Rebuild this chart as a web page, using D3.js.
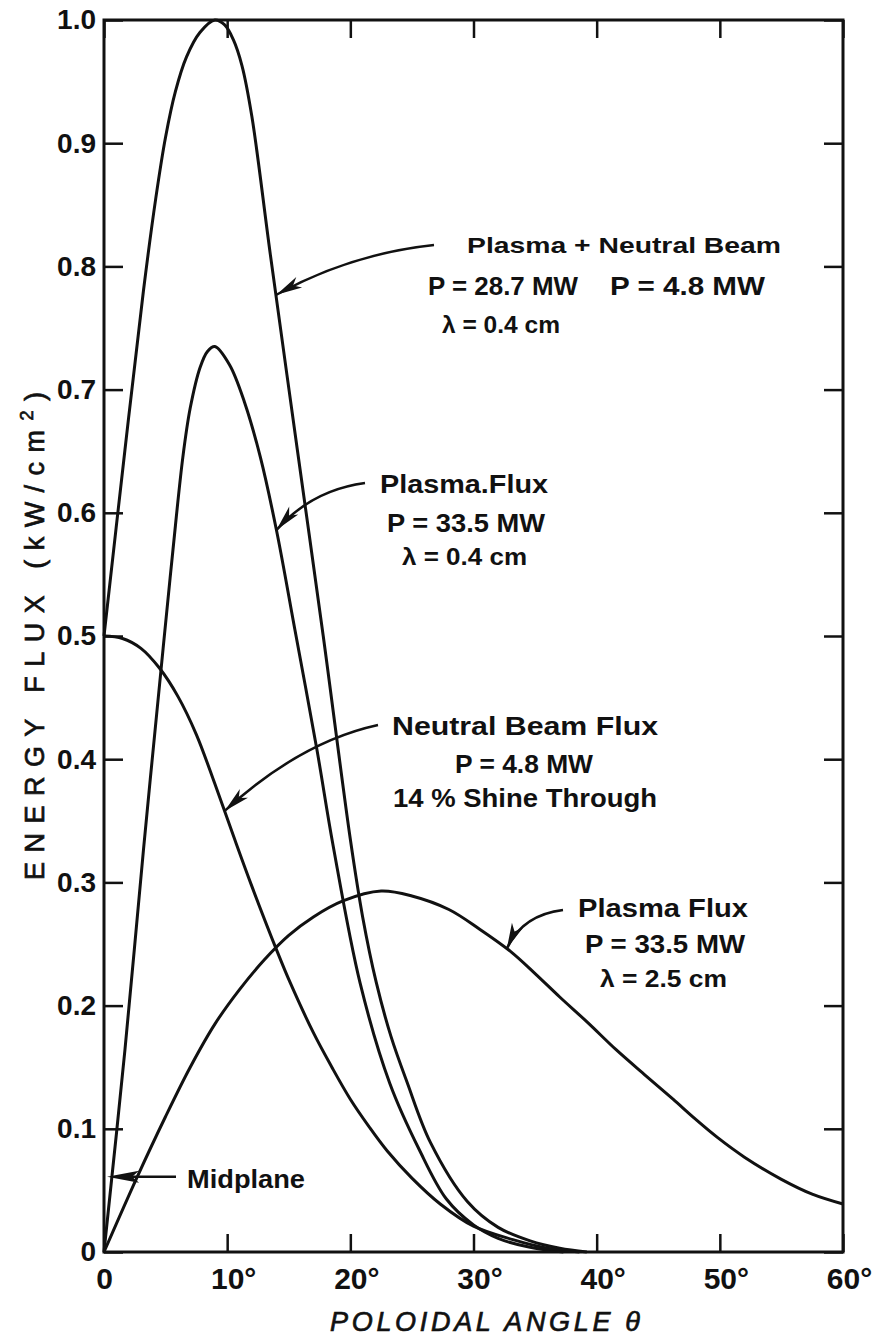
<!DOCTYPE html>
<html>
<head>
<meta charset="utf-8">
<script src="https://cdn.jsdelivr.net/npm/d3@7"></script>
<style>
  body { margin: 0; background: #fff; }
  svg { display: block; }
  .lbl { font-family: "Liberation Sans", Arial, sans-serif; fill: #111; }
  .axis text { font-family: "Liberation Sans", Arial, sans-serif; font-weight: bold; fill: #111; }
  .axis line { stroke: #111; stroke-width: 2.5; }
  .axis path { display: none; }
</style>
</head>
<body>
<div id="chart"></div>
<script>
// Tick values
var xTicks = [0, 10, 20, 30, 40, 50, 60];
var yTicks = [0, 0.1, 0.2, 0.3, 0.4, 0.5, 0.6, 0.7, 0.8, 0.9, 1.0];

// Plasma + Neutral Beam (P = 28.7 MW + 4.8 MW, lambda = 0.4 cm)
var totalTheta = [0, 1.7, 3.2, 4.2, 5.0, 5.8, 6.7, 7.8, 9.0, 9.8, 10.5, 11.2, 12.0, 13.5, 15.7, 17.8, 20.0, 21.0, 22.1, 23.3, 24.6, 26.5, 29.5, 32.0, 34.6, 37.0, 39.2];
var totalFlux  = [0.5, 0.651, 0.78, 0.855, 0.905, 0.942, 0.97, 0.99, 1.0, 0.996, 0.984, 0.963, 0.922, 0.81, 0.651, 0.5, 0.335, 0.272, 0.219, 0.175, 0.138, 0.089, 0.041, 0.020, 0.009, 0.003, 0];

// Plasma flux, P = 33.5 MW, lambda = 0.4 cm
var plasmaTheta = [0, 1.7, 3.2, 4.8, 5.6, 6.4, 7.0, 7.8, 8.4, 9.0, 10.2, 11.4, 12.7, 14.0, 15.5, 17.3, 18.6, 20.8, 23.2, 25.6, 27.8, 30.0, 32.0, 34.5, 37.3];
var plasmaFlux  = [0, 0.164, 0.326, 0.49, 0.57, 0.645, 0.685, 0.718, 0.731, 0.735, 0.72, 0.69, 0.645, 0.586, 0.505, 0.407, 0.33, 0.218, 0.137, 0.083, 0.043, 0.022, 0.011, 0.004, 0];

// Neutral beam flux, P = 4.8 MW, 14% shine through
var beamTheta = [0, 1.5, 3.0, 4.5, 6.0, 7.5, 9.0, 10.5, 12.0, 14.1, 15.1, 17.0, 18.5, 20.0, 21.5, 23.0, 25.0, 27.3, 30.0, 33.2, 36.0, 38.6];
var beamFlux  = [0.5, 0.498, 0.49, 0.474, 0.451, 0.42, 0.38, 0.338, 0.297, 0.243, 0.219, 0.178, 0.150, 0.124, 0.102, 0.082, 0.060, 0.039, 0.021, 0.010, 0.003, 0];

// Plasma flux, P = 33.5 MW, lambda = 2.5 cm
var wideTheta = [0, 2.7, 5.0, 7.0, 9.0, 11.0, 13.0, 15.0, 17.0, 19.4, 22.5, 25.0, 28.0, 30.5, 33.0, 35.0, 37.0, 39.3, 41.6, 44.0, 46.2, 48.0, 49.8, 52.0, 55.0, 57.5, 60.0];
var wideFlux  = [0, 0.061, 0.11, 0.15, 0.185, 0.213, 0.237, 0.257, 0.272, 0.285, 0.293, 0.289, 0.278, 0.262, 0.244, 0.226, 0.207, 0.186, 0.164, 0.143, 0.124, 0.108, 0.093, 0.077, 0.059, 0.047, 0.039];

var width = 879, height = 1338;
// note: "top" is taken by window.top, so use plot* names
var plotLeft = 104, plotRight = 843, plotTop = 20, plotBottom = 1252;

var svg = d3.select("#chart").append("svg")
  .attr("width", width)
  .attr("height", height);

var x = d3.scaleLinear().domain([0, 60]).range([plotLeft, plotRight]);
var y = d3.scaleLinear().domain([0, 1]).range([plotBottom, plotTop]);

// Axes, ticks point inward, labels outside
svg.append("g").attr("class", "axis")
  .attr("transform", "translate(0," + plotBottom + ")")
  .call(d3.axisBottom(x).tickValues(xTicks).tickSize(-18).tickPadding(16)
    .tickFormat(function(d) { return d === 0 ? "0" : d + "\u00b0"; }))
  .selectAll("text")
  .attr("font-size", 30)
  .attr("dx", function(d) { return d === 0 ? 0 : 6; });

svg.append("g").attr("class", "axis")
  .attr("transform", "translate(" + plotLeft + ",0)")
  .call(d3.axisLeft(y).tickValues(yTicks).tickSize(-19).tickPadding(8)
    .tickFormat(function(d) { return d === 0 ? "0" : d3.format(".1f")(d); }))
  .selectAll("text")
  .attr("font-size", 28);

svg.append("g").attr("class", "axis")
  .attr("transform", "translate(" + plotRight + ",0)")
  .call(d3.axisRight(y).tickValues(yTicks).tickSize(-19).tickFormat(""));

svg.append("g").attr("class", "axis")
  .attr("transform", "translate(0," + plotTop + ")")
  .call(d3.axisTop(x).tickValues(xTicks).tickSize(-18).tickFormat(""));

// frame
svg.append("rect")
  .attr("x", plotLeft).attr("y", plotTop)
  .attr("width", plotRight - plotLeft).attr("height", plotBottom - plotTop)
  .attr("fill", "none").attr("stroke", "#111").attr("stroke-width", 3);

// Curves
var line = d3.line()
  .x(function(d) { return x(d[0]); })
  .y(function(d) { return y(d[1]); })
  .curve(d3.curveCatmullRom.alpha(0.5));

var curves = [
  [totalTheta, totalFlux],
  [plasmaTheta, plasmaFlux],
  [beamTheta, beamFlux],
  [wideTheta, wideFlux]
];

curves.forEach(function(c) {
  svg.append("path")
    .datum(d3.zip(c[0], c[1]))
    .attr("d", line)
    .attr("fill", "none")
    .attr("stroke", "#111")
    .attr("stroke-width", 3)
    .attr("stroke-linejoin", "round");
});

// Leader arrows: start and bend in pixels, tip on the curve in data units
var arrows = [
  { start: [434, 245], bend: [350, 254], tip: [14.0, 0.777] },
  { start: [365, 483], bend: [312, 490], tip: [14.0, 0.586] },
  { start: [378, 725], bend: [300, 742], tip: [9.8, 0.358] },
  { start: [563, 910], bend: [522, 915], tip: [32.7, 0.246] }
];

function arrowHead(tx, ty, fromX, fromY, len, half) {
  var a = Math.atan2(ty - fromY, tx - fromX);
  var c = Math.cos(a), s = Math.sin(a);
  function p(u, v) { return [tx + u * c - v * s, ty + u * s + v * c]; }
  var pts = [p(0, 0), p(-len, -half), p(-len + 7, 0), p(-len, half)];
  return "M" + pts.map(function(q) { return q.join(","); }).join("L") + "Z";
}

arrows.forEach(function(a) {
  var tx = x(a.tip[0]), ty = y(a.tip[1]);
  svg.append("path")
    .attr("d", "M" + a.start[0] + "," + a.start[1] + " Q" + a.bend[0] + "," + a.bend[1] + " " + tx + "," + ty)
    .attr("fill", "none").attr("stroke", "#111").attr("stroke-width", 2.5);
  svg.append("path")
    .attr("d", arrowHead(tx, ty, a.bend[0], a.bend[1], 26, 6))
    .attr("fill", "#111");
});

// Midplane arrow (straight)
var mx = x(0.25), my = y(0.061);
svg.append("line")
  .attr("x1", 176).attr("y1", my).attr("x2", mx + 20).attr("y2", my)
  .attr("stroke", "#111").attr("stroke-width", 2.5);
svg.append("path")
  .attr("d", arrowHead(mx, my, 176, my, 32, 6))
  .attr("fill", "#111");

// Annotation text: [text, x, baseline, width, size]
var notes = [
  ["Plasma + Neutral Beam", 467, 253, 314, 22],
  ["P = 28.7 MW", 428, 295, 150, 25],
  ["P = 4.8 MW", 610, 295, 155, 25],
  ["\u03bb = 0.4 cm", 442, 333, 118, 24],
  ["Plasma.Flux", 380, 493, 168, 25],
  ["P = 33.5 MW", 387, 532, 158, 25],
  ["\u03bb = 0.4 cm", 402, 565, 125, 24],
  ["Neutral Beam Flux", 392, 735, 266, 25],
  ["P = 4.8 MW", 455, 773, 138, 25],
  ["14 % Shine Through", 393, 807, 264, 25],
  ["Plasma Flux", 578, 917, 170, 26],
  ["P = 33.5 MW", 585, 953, 160, 25],
  ["\u03bb = 2.5 cm", 600, 987, 127, 24],
  ["Midplane", 187, 1188, 118, 25]
];

svg.selectAll("text.note").data(notes).enter()
  .append("text")
  .attr("class", "lbl note")
  .attr("x", function(d) { return d[1]; })
  .attr("y", function(d) { return d[2]; })
  .attr("textLength", function(d) { return d[3]; })
  .attr("lengthAdjust", "spacingAndGlyphs")
  .attr("font-size", function(d) { return d[4]; })
  .attr("font-weight", "bold")
  .text(function(d) { return d[0]; });

// Axis titles
svg.append("text")
  .attr("class", "lbl")
  .attr("x", 485).attr("y", 1331)
  .attr("text-anchor", "middle")
  .attr("font-size", 27)
  .attr("font-style", "italic")
  .attr("stroke", "#111").attr("stroke-width", 0.7)
  .attr("textLength", 310)
  .attr("lengthAdjust", "spacing")
  .text("POLOIDAL ANGLE \u03b8");

var yTitle = svg.append("text")
  .attr("class", "lbl")
  .attr("transform", "translate(44,636)rotate(-90)")
  .attr("text-anchor", "middle")
  .attr("font-size", 27)
  .attr("stroke", "#111").attr("stroke-width", 0.7)
  .attr("textLength", 488)
  .attr("lengthAdjust", "spacing");
yTitle.append("tspan").text("ENERGY FLUX (kW/cm");
yTitle.append("tspan").attr("dy", -11).attr("font-size", 18).text("2");
yTitle.append("tspan").attr("dy", 11).text(")");
</script>
</body>
</html>
